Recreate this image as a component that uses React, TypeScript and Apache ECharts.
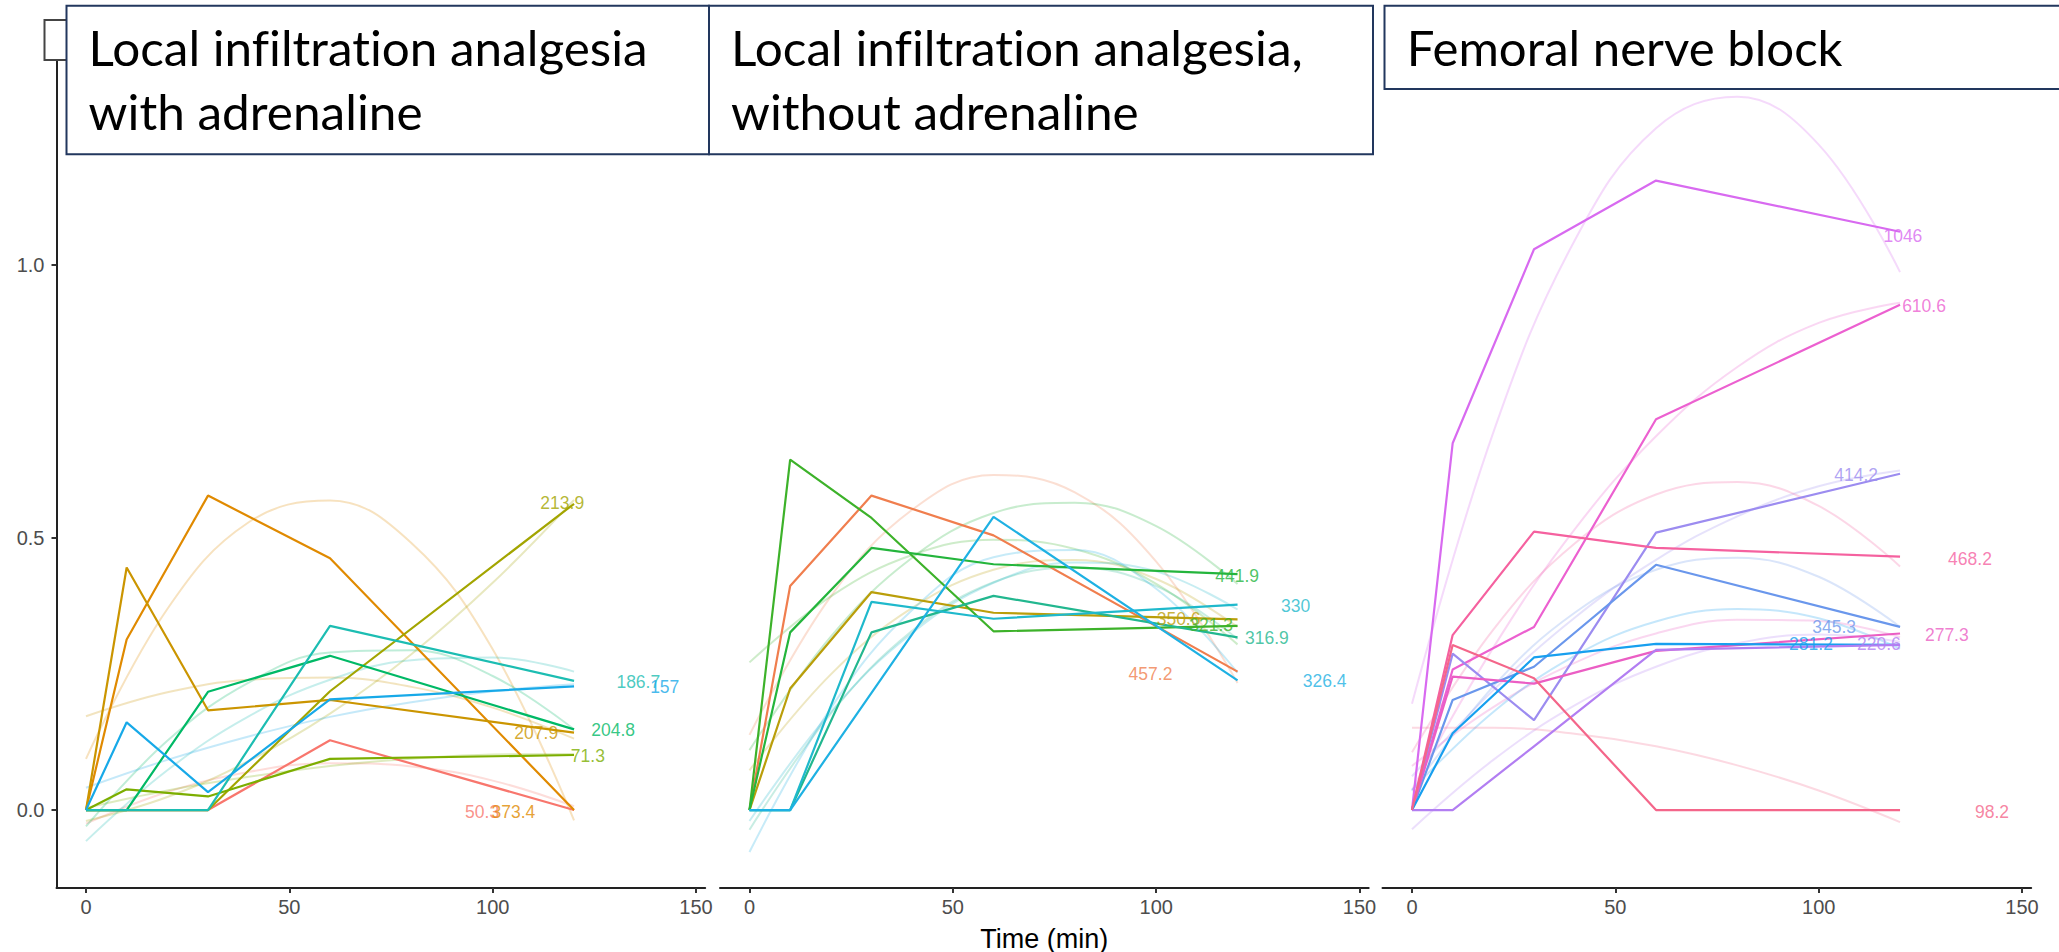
import React, { useEffect, useRef } from "react";
import * as echarts from "echarts";

// ---- data ----
const times = [0, 10, 30, 60, 120];
const smoothTimes = [0, 20, 40, 60, 80, 100, 120];
const xTicks = [0, 50, 100, 150];
const yTicks = [0, 0.5, 1.0];

const panelTitles = [
  ["Local infiltration analgesia", "with adrenaline"],
  ["Local infiltration analgesia,", "without adrenaline"],
  ["Femoral nerve block"],
];

// Panel 1: local infiltration analgesia with adrenaline
const p1Labels = ["50.3", "373.4", "207.9", "213.9", "71.3", "204.8", "186.7", "157"];
const p1Colors = ["#F8766D", "#E08A00", "#CB9500", "#A3A500", "#7CAE00", "#00B966", "#1CBDB2", "#17A9E8"];
const p1Values = [
  [0, 0, 0, 0.128, 0],
  [0, 0.313, 0.577, 0.462, 0],
  [0, 0.445, 0.183, 0.202, 0.142],
  [0, 0, 0, 0.218, 0.562],
  [0, 0.038, 0.025, 0.094, 0.101],
  [0, 0, 0.217, 0.283, 0.148],
  [0, 0, 0, 0.338, 0.237],
  [0, 0.161, 0.033, 0.203, 0.227],
];
// pale trend curves (read at smoothTimes)
const p1Smooth = [
  [-0.025, 0.033, 0.07, 0.086, 0.08, 0.054, 0.007],
  [0.094, 0.369, 0.528, 0.568, 0.49, 0.295, -0.019],
  [0.172, 0.216, 0.239, 0.243, 0.226, 0.188, 0.131],
  [-0.02, 0.024, 0.09, 0.177, 0.286, 0.417, 0.569],
  [0.004, 0.036, 0.061, 0.081, 0.094, 0.102, 0.103],
  [-0.03, 0.127, 0.234, 0.289, 0.293, 0.246, 0.148],
  [-0.057, 0.073, 0.172, 0.239, 0.275, 0.28, 0.254],
  [0.041, 0.092, 0.135, 0.171, 0.198, 0.218, 0.231],
];
const p1LabelT = [97.4, 105.1, 110.7, 117.1, 123.4, 129.6, 135.8, 142.3];
const p1LabelV = [-0.003, -0.003, 0.141, 0.563, 0.099, 0.146, 0.235, 0.225];

// Panel 2: local infiltration analgesia without adrenaline
const p2Labels = ["457.2", "350.6", "321.3", "441.9", "316.9", "330", "326.4"];
const p2Colors = ["#F07E4E", "#BA9E0A", "#3DB22A", "#24B53C", "#22B78F", "#1FB9CC", "#1EB1E3"];
const p2Values = [
  [0, 0.411, 0.577, 0.504, 0.254],
  [0, 0.223, 0.4, 0.362, 0.35],
  [0, 0.643, 0.536, 0.328, 0.338],
  [0, 0.326, 0.481, 0.451, 0.433],
  [0, 0, 0.326, 0.393, 0.317],
  [0, 0, 0.382, 0.351, 0.377],
  [0, 0, 0.215, 0.538, 0.238],
];
const p2Smooth = [
  [0.138, 0.392, 0.551, 0.615, 0.583, 0.456, 0.233],
  [0.073, 0.249, 0.371, 0.441, 0.459, 0.424, 0.336],
  [0.271, 0.392, 0.468, 0.496, 0.479, 0.415, 0.304],
  [0.11, 0.318, 0.463, 0.545, 0.564, 0.521, 0.415],
  [-0.036, 0.177, 0.329, 0.418, 0.445, 0.411, 0.314],
  [-0.02, 0.18, 0.325, 0.417, 0.454, 0.438, 0.368],
  [-0.077, 0.187, 0.367, 0.464, 0.477, 0.406, 0.252],
];
const p2LabelT = [98.6, 105.5, 113.5, 119.9, 127.2, 134.3, 141.4];
const p2LabelV = [0.249, 0.351, 0.339, 0.43, 0.315, 0.375, 0.236];

// Panel 3: femoral nerve block
const p3Labels = ["1046", "610.6", "414.2", "468.2", "345.3", "277.3", "281.2", "220.6", "98.2"];
const p3Colors = ["#D86AF0", "#EC60D0", "#9C8CF0", "#F5619F", "#6A97EC", "#EB5EC4", "#179FEF", "#B27EF2", "#F4668A"];
const p3Values = [
  [0, 0.673, 1.029, 1.155, 1.061],
  [0, 0.258, 0.336, 0.717, 0.927],
  [0, 0.287, 0.165, 0.509, 0.617],
  [0, 0.321, 0.511, 0.481, 0.465],
  [0, 0.202, 0.263, 0.45, 0.336],
  [0, 0.245, 0.232, 0.292, 0.324],
  [0, 0.141, 0.28, 0.305, 0.303],
  [0, 0, 0.117, 0.294, 0.303],
  [0, 0.303, 0.242, 0, 0],
];
const p3Smooth = [
  [0.195, 0.693, 1.045, 1.251, 1.309, 1.221, 0.987],
  [0.037, 0.298, 0.515, 0.686, 0.813, 0.894, 0.931],
  [0.062, 0.22, 0.353, 0.459, 0.539, 0.594, 0.623],
  [0.106, 0.331, 0.489, 0.579, 0.602, 0.558, 0.447],
  [0.035, 0.227, 0.362, 0.441, 0.463, 0.428, 0.336],
  [0.081, 0.189, 0.27, 0.324, 0.349, 0.347, 0.317],
  [0.037, 0.18, 0.283, 0.346, 0.369, 0.352, 0.296],
  [-0.035, 0.092, 0.192, 0.263, 0.306, 0.322, 0.309],
  [0.151, 0.151, 0.14, 0.117, 0.082, 0.036, -0.022],
];
const p3LabelT = [120.7, 125.9, 109.2, 137.2, 103.8, 131.5, 98.1, 114.8, 142.6];
const p3LabelV = [1.054, 0.925, 0.614, 0.461, 0.335, 0.322, 0.304, 0.304, -0.003];

const panels = [
  { labels: p1Labels, colors: p1Colors, values: p1Values, smooth: p1Smooth, lt: p1LabelT, lv: p1LabelV },
  { labels: p2Labels, colors: p2Colors, values: p2Values, smooth: p2Smooth, lt: p2LabelT, lv: p2LabelV },
  { labels: p3Labels, colors: p3Colors, values: p3Values, smooth: p3Smooth, lt: p3LabelT, lv: p3LabelV },
];

// ---- layout ----
const W = 2059, H = 952;
const X_MIN = -7.25, X_MAX = 152.25;
const Y_MIN = -0.143, Y_MAX = 1.383;
const gridLefts = [56.5, 720, 1382.5];
const GRID_W = 648.7, GRID_TOP = 56.3, GRID_H = 831.7;
const FONT = "'Liberation Sans', Arial, sans-serif";
const TITLE_FONT = "Lato";
const TITLE_SIZE = 48;

function textScale(text: string, target: number) {
  const c = document.createElement("canvas").getContext("2d");
  if (!c) return 1;
  c.font = `${TITLE_SIZE}px ${TITLE_FONT}`;
  const w = c.measureText(text).width;
  return w > 0 ? target / w : 1;
}

export default function App() {
  const ref = useRef<HTMLDivElement>(null);
  useEffect(() => {
    document.body.style.margin = "0";
    if (!ref.current) return;
    const chart = echarts.init(ref.current, null, { renderer: "svg" });

    const grid = gridLefts.map((l) => ({
      left: l,
      top: GRID_TOP,
      width: GRID_W,
      height: GRID_H,
      containLabel: false,
      outerBoundsMode: "none",
    }));
    const xAxis = gridLefts.map((_, i) => ({
      gridIndex: i,
      type: "value",
      min: X_MIN,
      max: X_MAX,
      splitLine: { show: false },
      axisLine: { show: true, onZero: false, lineStyle: { color: "#222", width: 2 } },
      axisTick: { show: true, length: 5, customValues: xTicks, lineStyle: { color: "#333", width: 2 } },
      axisLabel: { customValues: xTicks, fontSize: 20, color: "#4D4D4D", margin: 9, fontFamily: FONT },
      ...(i === 1
        ? {
            name: "Time (min)",
            nameLocation: "middle",
            nameGap: 37,
            nameTextStyle: { fontSize: 27, color: "#000", fontFamily: FONT },
          }
        : {}),
    }));
    const yAxis = gridLefts.map((_, i) => ({
      gridIndex: i,
      type: "value",
      min: Y_MIN,
      max: Y_MAX,
      show: i === 0,
      splitLine: { show: false },
      axisLine: { show: true, onZero: false, lineStyle: { color: "#222", width: 2 } },
      axisTick: { show: true, length: 5, customValues: yTicks, lineStyle: { color: "#333", width: 2 } },
      axisLabel: {
        customValues: yTicks,
        fontSize: 20,
        color: "#4D4D4D",
        margin: 12,
        fontFamily: FONT,
        formatter: (v: number) => v.toFixed(1),
      },
    }));

    const series: any[] = [];
    panels.forEach((p, pi) => {
      p.smooth.forEach((vals, k) => {
        series.push({
          type: "line",
          xAxisIndex: pi,
          yAxisIndex: pi,
          data: smoothTimes.map((t, j) => [t, vals[j]]),
          smooth: 0.4,
          symbol: "none",
          silent: true,
          z: 1,
          lineStyle: { color: p.colors[k], width: 2, opacity: 0.25 },
        });
      });
      p.values.forEach((vals, k) => {
        series.push({
          type: "line",
          xAxisIndex: pi,
          yAxisIndex: pi,
          data: times.map((t, j) => [t, vals[j]]),
          symbol: "none",
          silent: true,
          z: 2,
          lineStyle: { color: p.colors[k], width: 2.2 },
        });
      });
      series.push({
        type: "scatter",
        xAxisIndex: pi,
        yAxisIndex: pi,
        symbolSize: 1,
        silent: true,
        z: 3,
        itemStyle: { color: "rgba(0,0,0,0)" },
        data: p.labels.map((lab, k) => ({
          name: lab,
          value: [p.lt[k], p.lv[k]],
          label: { color: p.colors[k] },
        })),
        label: {
          show: true,
          position: "inside",
          formatter: "{b}",
          fontSize: 17.5,
          fontFamily: FONT,
        },
      });
    });

    const boxStroke = "#22375E";
    const titleLines = [
      { text: panelTitles[0][0], x: 88.6, base: 65.7, w: 559 },
      { text: panelTitles[0][1], x: 88.6, base: 130, w: 334 },
      { text: panelTitles[1][0], x: 731, base: 65.7, w: 572 },
      { text: panelTitles[1][1], x: 731, base: 130, w: 408 },
      { text: panelTitles[2][0], x: 1406.8, base: 65.7, w: 436 },
    ];
    const graphic: any[] = [
      {
        type: "rect",
        shape: { x: 44.5, y: 20, width: 40, height: 40 },
        style: { fill: "#fff", stroke: "#444", lineWidth: 2 },
        z: 10,
      },
      {
        type: "rect",
        shape: { x: 66.5, y: 5.7, width: 642.5, height: 148.6 },
        style: { fill: "#fff", stroke: boxStroke, lineWidth: 2 },
        z: 11,
      },
      {
        type: "rect",
        shape: { x: 709, y: 5.7, width: 664, height: 148.6 },
        style: { fill: "#fff", stroke: boxStroke, lineWidth: 2 },
        z: 11,
      },
      {
        type: "rect",
        shape: { x: 1384.5, y: 5.7, width: 720, height: 83.3 },
        style: { fill: "#fff", stroke: boxStroke, lineWidth: 2 },
        z: 11,
      },
      ...titleLines.map((t) => ({
        type: "text",
        x: t.x,
        y: t.base - 0.387 * TITLE_SIZE,
        scaleX: textScale(t.text, t.w),
        z: 12,
        style: {
          text: t.text,
          fill: "#000",
          font: `${TITLE_SIZE}px ${TITLE_FONT}`,
          fontSize: TITLE_SIZE,
          fontFamily: TITLE_FONT,
          align: "left",
          verticalAlign: "middle",
          textAlign: "left",
          textVerticalAlign: "middle",
        },
      })),
    ];

    chart.setOption({
      animation: false,
      backgroundColor: "#fff",
      textStyle: { fontFamily: FONT },
      grid,
      xAxis,
      yAxis,
      series,
      graphic: { elements: graphic },
    });
    return () => chart.dispose();
  }, []);

  return (
    <div
      ref={ref}
      style={{
        position: "fixed",
        left: 0,
        top: 0,
        width: W + "px",
        height: H + "px",
        background: "#fff",
        fontVariantLigatures: "none",
      }}
    />
  );
}
